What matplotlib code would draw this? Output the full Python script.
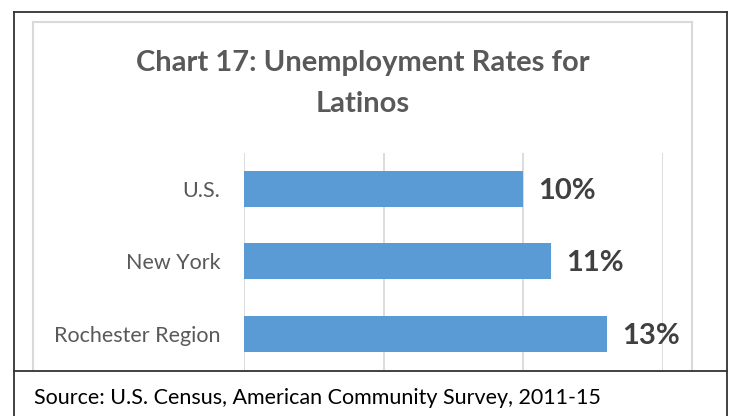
import matplotlib
matplotlib.use("Agg")
import matplotlib.pyplot as plt
from matplotlib.lines import Line2D

plt.rcParams['font.family'] = ['Lato', 'DejaVu Sans']

# data
categories = ["U.S.", "New York", "Rochester Region"]
rates = [10, 11, 13]
rate_labels = ["10%", "11%", "13%"]
grid_ticks = [0, 5, 10, 15]
title = "Chart 17: Unemployment Rates for\nLatinos"
source = "Source: U.S. Census, American Community Survey, 2011-15"

W, H = 735, 416
fig = plt.figure(figsize=(W / 100, H / 100), dpi=100)

def px(x, y):
    """pixel (from top-left) -> figure coords"""
    return x / W, 1 - y / H

# plot area
x0, x1 = 244, 663
y0, y1 = 152.5, 370
ax = fig.add_axes([x0 / W, 1 - y1 / H, (x1 - x0) / W, (y1 - y0) / H])
ax.barh(range(len(categories)), rates, height=0.5, color='#5B9BD5', zorder=3)
ax.set_xlim(0, 15)
ax.set_ylim(len(categories) - 0.5, -0.5)
ax.set_xticks(grid_ticks)
ax.set_yticks(range(len(categories)))
ax.set_yticklabels(categories, fontsize=15.5, color='#595959')
ax.tick_params(axis='y', length=0, pad=17)
ax.tick_params(axis='x', length=0, labelbottom=False)
ax.grid(axis='x', color='#D9D9D9', linewidth=1.3, zorder=0)
for s in ax.spines.values():
    s.set_visible(False)
for i, (v, lab) in enumerate(zip(rates, rate_labels)):
    ax.annotate(lab, (v, i), xytext=(11, -1.5), textcoords='offset points',
                va='center', ha='left', fontsize=21, fontweight='bold', color='#404040')

# title
fig.text(*px(362.5, 83.5), title, ha='center', va='center', fontsize=21,
         fontweight='bold', color='#595959', linespacing=1.7)

# inner chart frame (gray)
gray = '#D9D9D9'
for xs, ys in [([33, 692], [22, 22]), ([33, 33], [22, 371]), ([692, 692], [22, 371])]:
    fx = [x / W for x in xs]
    fy = [1 - y / H for y in ys]
    fig.add_artist(Line2D(fx, fy, color=gray, linewidth=1.5))

# outer black border and source separator
for xs, ys in [([13.5, 727], [11.5, 11.5]), ([13.5, 13.5], [11.5, 416]),
               ([727, 727], [11.5, 416]), ([13.5, 727], [371, 371])]:
    fx = [x / W for x in xs]
    fy = [1 - y / H for y in ys]
    fig.add_artist(Line2D(fx, fy, color='#333333', linewidth=1.3))

fig.text(*px(34, 398.5), source, ha='left', va='center', fontsize=15.5, color='black')

fig.savefig("out.png", dpi=100)
